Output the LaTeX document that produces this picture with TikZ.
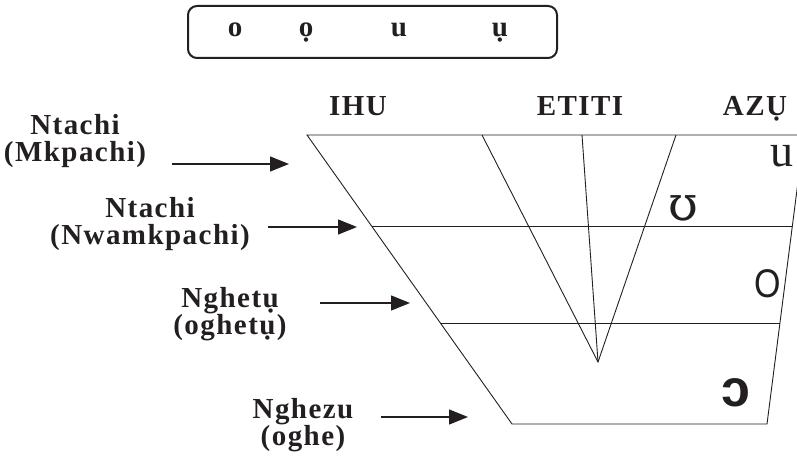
\documentclass[tikz,border=0pt]{standalone}
\usepackage{fontspec}
\setmainfont{Liberation Serif}
\newfontfamily\ipasans{Liberation Sans}
\newfontfamily\ipaserif{DejaVu Serif}
\usetikzlibrary{arrows.meta,calc}
\definecolor{ink}{RGB}{35,31,32}

\begin{document}
\begin{tikzpicture}[x=1pt,y=-1pt,
    lbl/.style={font=\bfseries\fontsize{29}{27.5}\selectfont\addfontfeatures{LetterSpace=5},text=ink,align=center,inner sep=0pt},
    hd/.style={font=\bfseries\fontsize{29}{29}\selectfont\addfontfeatures{LetterSpace=5},text=ink,anchor=base,inner sep=0pt},
    pointer/.style={draw=ink,line width=1.3pt,-{Triangle[length=19pt,width=15pt]}},
    chart/.style={draw=ink,line width=0.9pt},
    vowel/.style={text=ink,inner sep=0pt}]
  \useasboundingbox (0,0) rectangle (797,457);

  % vowel box
  \draw[ink,line width=2pt,rounded corners=9pt] (188,6) rectangle (557,58);
  \node[hd] (o) at (235,37) {o};
  \node[hd] (odot) at (306,37) {ọ};
  \node[hd] (u) at (399,37) {u};
  \node[hd] (udot) at (500,37) {ụ};

  % column heads
  \node[hd] (ihu) at (358,116) {IHU};
  \node[hd] (etiti) at (580,116) {ETITI};
  \node[hd] (azu) at (755,116) {AZỤ};

  % the chart
  \coordinate (tl) at (307,135);
  \coordinate (tr) at (804,135);
  \coordinate (br) at (767,424);
  \coordinate (bl) at (512,424);
  \coordinate (v) at (598,362);
  \draw[chart] (tl) -- (tr) -- (br) -- (bl) -- cycle;
  \draw[chart] ($(tl)!0.318!(bl)$) -- ($(tr)!0.318!(br)$);
  \draw[chart] ($(tl)!0.651!(bl)$) -- ($(tr)!0.651!(br)$);
  \draw[chart] (482,135) -- (v) -- (676,135);
  \draw[chart] (582,135) -- (v);

  \node[vowel,font=\fontsize{46}{46}\selectfont] (uu) at (782,156) {u};
  \node[vowel,font=\ipaserif\fontsize{48}{48}\selectfont] (upsilon) at (683,208) {ʊ};
  \node[vowel,font=\ipasans\fontsize{40}{40}\selectfont] (oo) at (768,284) {\scalebox{0.85}[1]{O}};
  \node[vowel,font=\ipasans\bfseries\fontsize{52}{52}\selectfont] (openo) at (736,393) {ɔ};

  % row labels
  \node[lbl] (mkpachi) at (75,141) {Ntachi\\(Mkpachi)};
  \node[lbl] (nwam) at (150,224) {Ntachi\\(Nwamkpachi)};
  \node[lbl] (oghetu) at (230,314) {Nghetụ\\(oghetụ)};
  \node[lbl] (oghe) at (303,425) {Nghezu\\(oghe)};

  \coordinate (a1) at (172,164); \coordinate (t1) at (289,164);
  \coordinate (a2) at (268,227); \coordinate (t2) at (357,227);
  \coordinate (a3) at (320,303); \coordinate (t3) at (410,303);
  \coordinate (a4) at (381,417); \coordinate (t4) at (468,417);
  \draw[pointer] (a1) -- (t1);
  \draw[pointer] (a2) -- (t2);
  \draw[pointer] (a3) -- (t3);
  \draw[pointer] (a4) -- (t4);
\end{tikzpicture}
\end{document}
